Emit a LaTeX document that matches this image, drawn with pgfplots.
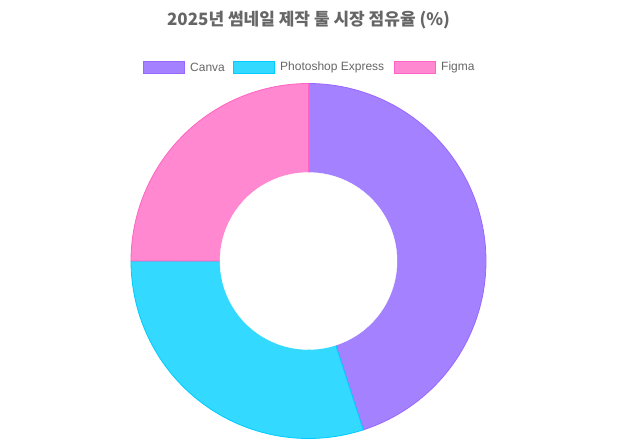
\documentclass[border=0pt]{standalone}
\usepackage{pgfplots}
\pgfplotsset{compat=1.18}
\usepackage{pgfplotstable}
\usepackage{fontspec}
\setmainfont{Liberation Sans}
\newfontfamily\cjk{Noto Sans CJK KR}
\definecolor{canvaF}{RGB}{164,130,255}
\definecolor{canvaB}{RGB}{153,102,255}
\definecolor{psF}{RGB}{51,217,255}
\definecolor{psB}{RGB}{0,204,255}
\definecolor{figF}{RGB}{255,136,208}
\definecolor{figB}{RGB}{255,99,196}
\definecolor{txt}{RGB}{102,102,102}

\pgfplotstableread{
tool share
Canva 45
Photoshop 30
Figma 25
}\shares

\pgfplotstablegetelem{0}{share}\of\shares \let\va\pgfplotsretval
\pgfplotstablegetelem{1}{share}\of\shares \let\vb\pgfplotsretval
\pgfplotstablegetelem{2}{share}\of\shares \let\vc\pgfplotsretval

\begin{document}
\begin{tikzpicture}[x=1pt,y=1pt]
\path[use as bounding box] (0,0) rectangle (617,440);
% title
\node[text=txt,font=\cjk\bfseries\fontsize{17}{20}\selectfont] at (308.5,420) {2025년 썸네일 제작 툴 시장 점유율 (\%)};
% legend
\begin{scope}[font=\fontsize{12}{14}\selectfont,text=txt]
\filldraw[fill=canvaF,draw=canvaB] (143,367) rectangle (184,379);
\node[anchor=west,inner sep=0] at (190,373) {Canva};
\filldraw[fill=psF,draw=psB] (233,367) rectangle (274,379);
\node[anchor=west,inner sep=0] at (280,373) {Photoshop Express};
\filldraw[fill=figF,draw=figB] (394,367) rectangle (435,379);
\node[anchor=west,inner sep=0] at (441,373) {Figma};
\end{scope}
\pgfmathsetmacro{\aA}{90}
\pgfmathsetmacro{\aB}{90-3.6*\va}
\pgfmathsetmacro{\aC}{\aB-3.6*\vb}
\pgfmathsetmacro{\aD}{\aC-3.6*\vc}
\begin{axis}[
  at={(308.5pt,179pt)}, anchor=center,
  scale only axis, width=356pt, height=356pt,
  xmin=-178, xmax=178, ymin=-178, ymax=178,
  hide axis, clip=false,
  samples=90,
]
\addplot[fill=canvaF, draw=canvaB, line width=0.8pt, domain=\aB:\aA] ({177.5*cos(x)},{177.5*sin(x)}) -- (axis cs:0,0) -- cycle;
\addplot[fill=psF, draw=psB, line width=0.8pt, domain=\aC:\aB] ({177.5*cos(x)},{177.5*sin(x)}) -- (axis cs:0,0) -- cycle;
\addplot[fill=figF, draw=figB, line width=0.8pt, domain=\aD:\aC] ({177.5*cos(x)},{177.5*sin(x)}) -- (axis cs:0,0) -- cycle;
\addplot[fill=white, draw=white, line width=0.4pt, domain=0:360] ({88.5*cos(x)},{88.5*sin(x)}) -- cycle;
\end{axis}
\end{tikzpicture}
\end{document}
